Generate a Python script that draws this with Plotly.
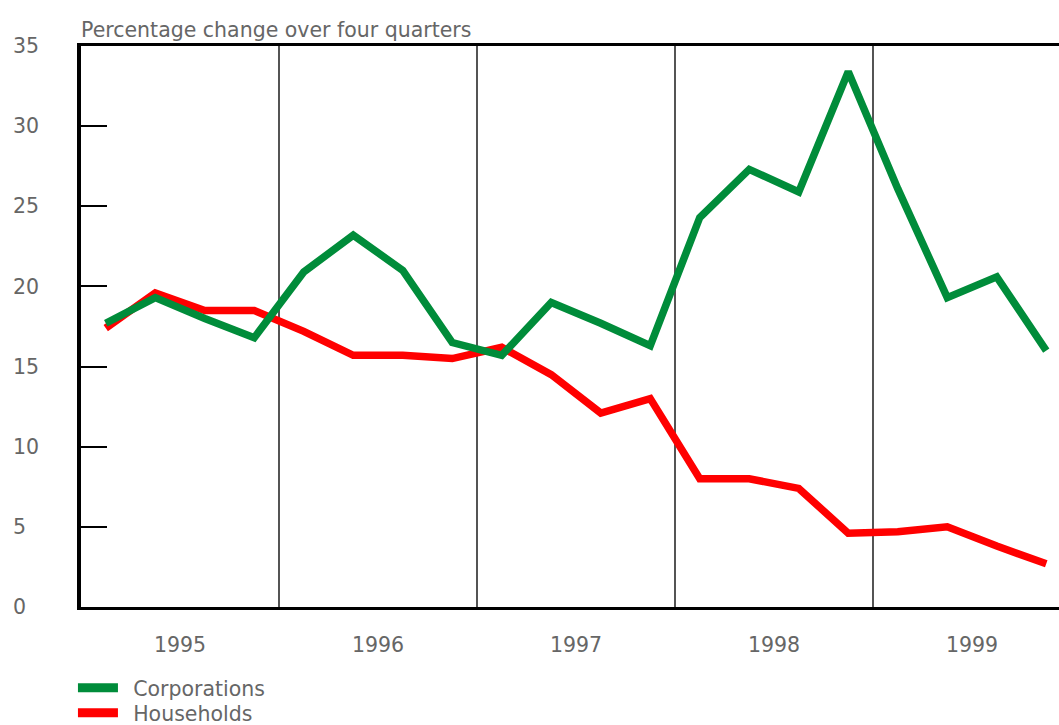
import plotly.graph_objects as go

quarters = [1995 + i * 0.25 + 0.125 for i in range(20)]
year_labels = ["1995", "1996", "1997", "1998", "1999"]
year_label_pos = [1995.5, 1996.5, 1997.5, 1998.5, 1999.5]
year_bounds = [1996, 1997, 1998, 1999]
y_ticks = [0, 5, 10, 15, 20, 25, 30, 35]
y_tick_text = ["0\u2007", "5\u2007", "10", "15", "20", "25", "30", "35"]

corporations = [17.7, 19.3, 18.0, 16.8, 20.9, 23.2, 21.0, 16.5,
                15.7, 19.0, 17.7, 16.3, 24.3, 27.3, 25.9, 33.4,
                26.1, 19.3, 20.6, 16.0]
households = [17.4, 19.6, 18.5, 18.5, 17.2, 15.7, 15.7, 15.5,
              16.2, 14.5, 12.1, 13.0, 8.0, 8.0, 7.4, 4.6,
              4.7, 5.0, 3.8, 2.7]

FONT = "DejaVu Sans, Verdana, sans-serif"
TXT = "#666666"
FS = 20.5
GREEN = "#008c3a"
RED = "#ff0000"

W, H = 1100, 760
ML, MT, MB = 81, 46, 153
plot_w = W - ML
x_end = 1995 + plot_w / 198.0

fig = go.Figure()
fig.add_trace(go.Scatter(x=quarters, y=households, mode="lines", name="Households",
                         line=dict(color=RED, width=7.5), showlegend=False))
fig.add_trace(go.Scatter(x=quarters, y=corporations, mode="lines", name="Corporations",
                         line=dict(color=GREEN, width=7.5), showlegend=False))
# legend entries
fig.add_trace(go.Scatter(x=[None], y=[None], mode="lines", name="\u2002Corporations",
                         line=dict(color=GREEN, width=9), legend="legend"))
fig.add_trace(go.Scatter(x=[None], y=[None], mode="lines", name="\u2002Households",
                         line=dict(color=RED, width=9), legend="legend2"))

for yb in year_bounds:
    fig.add_vline(x=yb, line=dict(color="#2a2a2a", width=1.6), layer="below")

leg_common = dict(x=-0.0079, xanchor="left", yanchor="middle", orientation="v",
                  font=dict(size=FS, color=TXT, family=FONT), itemwidth=40,
                  bgcolor="rgba(0,0,0,0)", borderwidth=0)

fig.update_layout(
    width=W, height=H,
    margin=dict(l=ML, r=0, t=MT, b=MB),
    paper_bgcolor="white", plot_bgcolor="white",
    font=dict(family=FONT, size=FS, color=TXT),
    showlegend=True,
    legend=dict(y=-0.1444, **leg_common),
    legend2=dict(y=-0.1890, **leg_common),
    annotations=[dict(text="Percentage change over four quarters", x=0, y=1,
                      xref="paper", yref="paper", xanchor="left", yanchor="bottom",
                      showarrow=False, font=dict(size=FS, color=TXT),
                      xshift=-2, yshift=2)],
)
fig.update_xaxes(range=[1995, x_end], tickvals=year_label_pos, ticktext=year_labels,
                 showgrid=False, zeroline=False, ticks="", showline=True,
                 linecolor="black", linewidth=3, mirror=True,
                 ticklabelstandoff=17, tickfont=dict(size=FS, color=TXT))
fig.update_yaxes(range=[0, 35], tickvals=y_ticks, ticktext=y_tick_text,
                 showgrid=False, zeroline=False, ticks="inside", ticklen=26,
                 tickwidth=2, tickcolor="black", showline=True,
                 linecolor="black", linewidth=3.5, mirror=False,
                 ticklabelstandoff=34, tickfont=dict(size=FS, color=TXT))

fig.write_html("out.html", config={"displayModeBar": False},
               post_script="document.body.style.margin='0';document.body.style.overflow='hidden';")
